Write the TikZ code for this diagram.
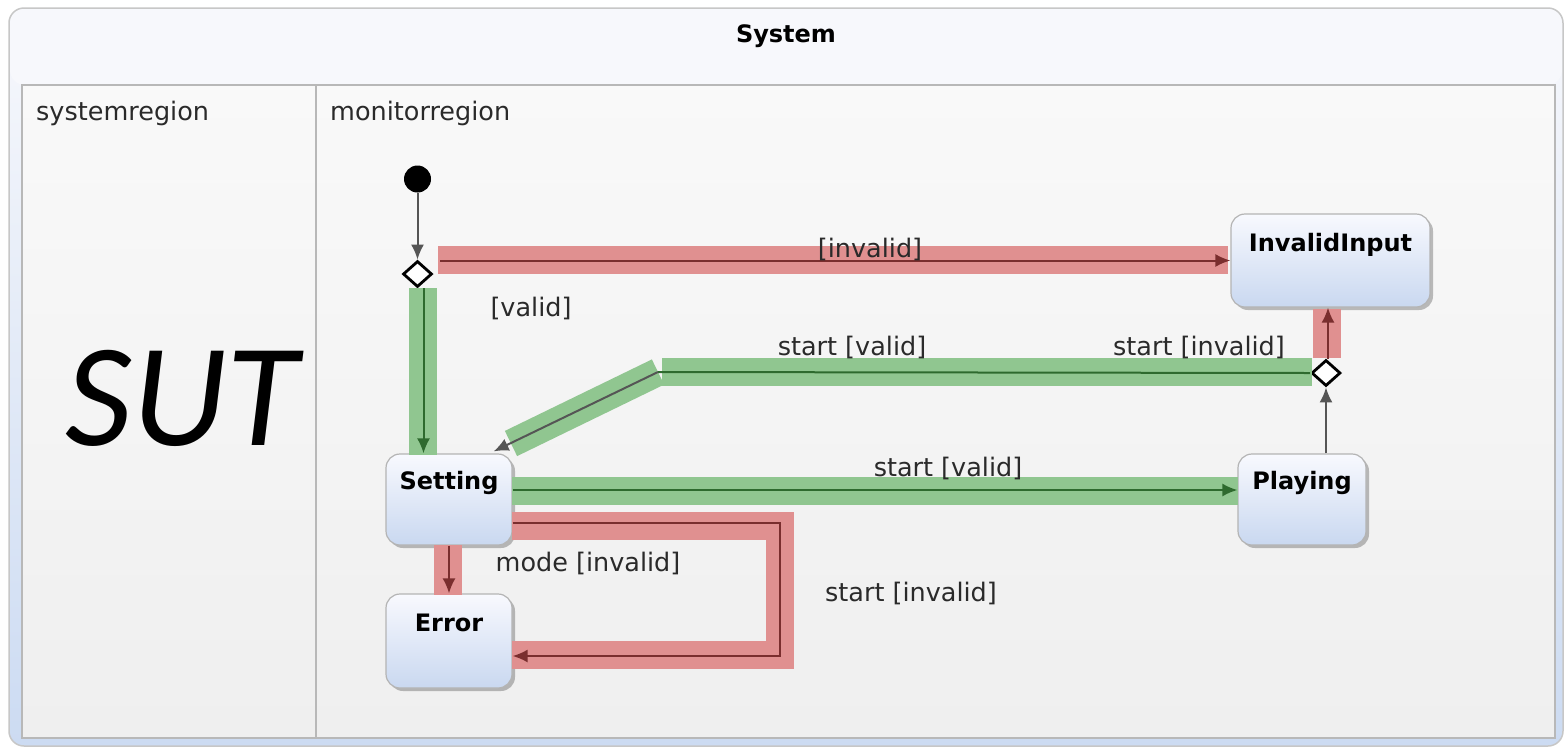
\documentclass[tikz,border=0pt]{standalone}
\usepackage{fontspec}
\setmainfont{DejaVu Sans}
\newfontfamily\sutfont{Carlito}
\usetikzlibrary{shapes.geometric,shadows,arrows.meta,calc}
\definecolor{bandred}{HTML}{E09090}
\definecolor{bandgreen}{HTML}{90C690}
\definecolor{linered}{HTML}{7A2E2E}
\definecolor{linegreen}{HTML}{2E6A2E}
\definecolor{linegray}{HTML}{555555}
\definecolor{stateTop}{HTML}{F8F9FE}
\definecolor{stateBot}{HTML}{C9D8F0}
\definecolor{stateEdge}{HTML}{B4B4B4}
\definecolor{frameTop}{HTML}{F7F8FC}
\definecolor{frameBot}{HTML}{CCDBF2}
\definecolor{regTop}{HTML}{F9F9F9}
\definecolor{regBot}{HTML}{EFEFEF}
\definecolor{txt}{HTML}{2A2A2A}
\tikzset{
  lbl/.style={font=\fontsize{25.5}{30}\selectfont, text=txt, inner sep=0pt},
  bold/.style={font=\fontsize{24}{28}\selectfont\bfseries, text=black, inner sep=0pt},
  statebox/.style={draw=stateEdge, line width=1.2pt, rounded corners=14pt, top color=stateTop, bottom color=stateBot,
    drop shadow={shadow xshift=3pt, shadow yshift=-3pt, opacity=0.25, fill=black}, inner sep=0pt},
  choice/.style={diamond, draw=black, line width=2.8pt, fill=white, minimum width=29pt, minimum height=26pt, inner sep=0pt},
  initial/.style={circle, fill=black, minimum size=27pt, inner sep=0pt},
  redband/.style={draw=bandred, line width=28pt, line cap=butt, line join=miter},
  greenband/.style={draw=bandgreen, line width=28pt, line cap=butt, line join=miter},
  redline/.style={draw=linered, line width=2pt, -{Latex[length=15pt,width=13pt]}},
  greenline/.style={draw=linegreen, line width=2pt, -{Latex[length=15pt,width=13pt]}},
  grayline/.style={draw=linegray, line width=2pt, -{Latex[length=15pt,width=13pt]}},
}
\begin{document}
\begin{tikzpicture}[x=1pt,y={(0pt,-1pt)}]
\useasboundingbox (0,0) rectangle (1566,748);
\fill[white] (0,0) rectangle (1566,748);
% outer frame
\shade[top color=frameTop, bottom color=frameBot, rounded corners=15pt] (9,8) rectangle (1563,746);
\fill[frameTop, rounded corners=15pt] (10,9) -- (1562,9) -- (1562,85) -- (10,85) -- cycle;
\draw[draw=black!22, line width=1.5pt, rounded corners=15pt] (9,8) rectangle (1563,746);
% regions
\shade[top color=regTop, bottom color=regBot] (22,85) rectangle (1555,738);
\draw[draw=black!28, line width=1.5pt] (22,85) rectangle (1555,738);
\draw[draw=black!28, line width=1.2pt] (316,85) -- (316,738);
\node[bold] (title) at (786,36) {System};
\node[lbl, anchor=west] (sysreg) at (36,113) {systemregion};
\node[lbl, anchor=west] (monreg) at (330,113) {monitorregion};
\node[font=\fontsize{147}{150}\sutfont\itshape, inner sep=0pt, text=black] (sut) at (182,398) {SUT};

% states
\node[statebox, minimum width=199pt, minimum height=93pt] (invalid) at (1330.5,260.5) {};
\node[statebox, minimum width=126pt, minimum height=91pt] (setting) at (449,499.5) {};
\node[statebox, minimum width=128pt, minimum height=91pt] (playing) at (1302,499.5) {};
\node[statebox, minimum width=126pt, minimum height=94pt] (error) at (449,641) {};
\node[bold] (invalidT) at ([yshift=-31pt]invalid.north) {InvalidInput};
\node[bold] (settingT) at ([yshift=-30pt]setting.north) {Setting};
\node[bold] (playingT) at ([yshift=-30pt]playing.north) {Playing};
\node[bold] (errorT) at ([yshift=-30pt]error.north) {Error};

% pseudo states
\node[initial] (init) at (417.5,179) {};
\node[choice] (c1) at (417.5,274) {};
\node[choice] (c2) at (1326,373) {};

% bands
\draw[redband] (438,260) -- (1228,260);
\draw[greenband] (423,288) -- (423,455);
\draw[redband] (1326.5,309) -- (1326.5,358);
\draw[greenband] (662,372) -- (1312,372);
\draw[greenband] (658,372) -- (511,443.5);
\draw[greenband] (512,490.5) -- (1238,490.5);
\draw[redband] (447.5,545) -- (447.5,595);
\draw[redband] (512,526) -- (779.5,526) -- (779.5,655) -- (512,655);

% connectors
\coordinate (bend) at (658,372);
\draw[grayline] (init) -- (c1.north);
\draw[redline] ([xshift=7pt]c1.east |- invalid.west) -- (invalid.west);
\draw[greenline] ([xshift=6pt]c1.south) -- ([xshift=6pt]c1.south |- setting.north);
\draw[grayline] (c2.south |- playing.north) -- (c2.south);
\draw[redline] ([xshift=2pt]c2.north) -- ([xshift=2pt]c2.north |- invalid.south);
\draw[draw=linegreen, line width=2pt] (c2.west) -- (bend);
\draw[grayline] (bend) -- ([xshift=-19pt,yshift=2pt]setting.north east);
\draw[greenline] ([yshift=9.5pt]setting.east) -- ([yshift=9.5pt]playing.west);
\draw[redline] (setting.south) -- (error.north);
\draw[redline] ([yshift=-23.5pt]setting.east) -| (780,656) -- ([yshift=-15pt]error.east);

% labels
\node[lbl] (l1) at (870,249) {[invalid]};
\node[lbl] (l2) at (531,308) {[valid]};
\node[lbl] (l3) at (852,347) {start [valid]};
\node[lbl] (l4) at (1199,347) {start [invalid]};
\node[lbl] (l5) at (948,468) {start [valid]};
\node[lbl] (l6) at (588,563) {mode [invalid]};
\node[lbl] (l7) at (911,593) {start [invalid]};
\end{tikzpicture}
\end{document}
